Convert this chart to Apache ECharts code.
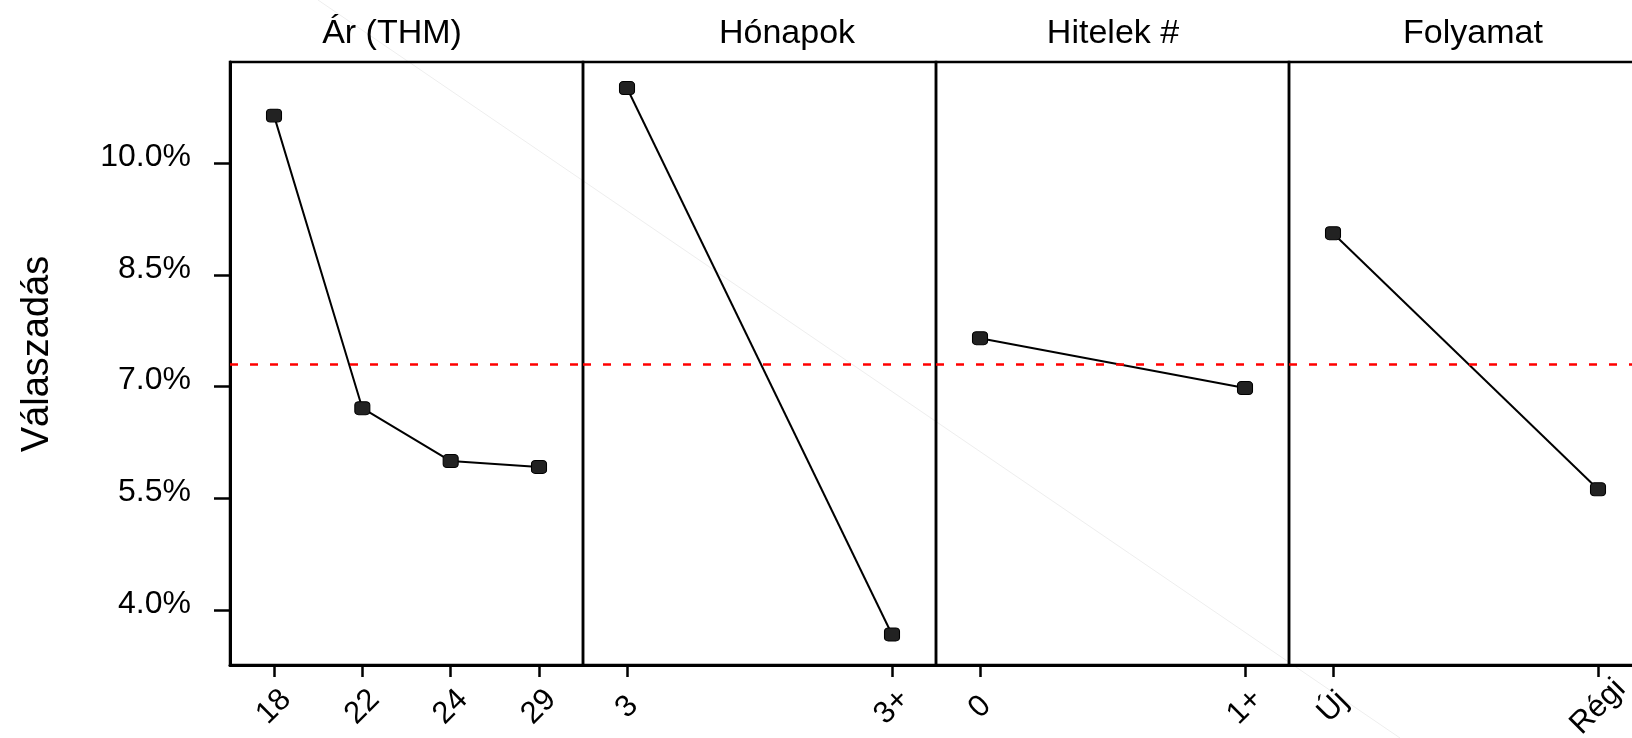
<!DOCTYPE html>
<html>
<head>
<meta charset="utf-8">
<title>Főhatások - Válaszadás</title>
<script src="https://cdn.jsdelivr.net/npm/echarts@6/dist/echarts.min.js"></script>
<style>
html, body { margin: 0; padding: 0; background: #fff; }
#main { width: 1632px; height: 738px; }
</style>
</head>
<body>
<div id="main"></div>
<script>
// adatok
var panelNames = ['Ár (THM)', 'Hónapok', 'Hitelek #', 'Folyamat'];
var arLevels = ['18', '22', '24', '29'];
var arValues = [10.64, 6.71, 6.00, 5.92];
var honapLevels = ['3', '3+'];
var honapValues = [11.01, 3.67];
var hitelLevels = ['0', '1+'];
var hitelValues = [7.65, 6.98];
var folyLevels = ['Új', 'Régi'];
var folyValues = [9.06, 5.62];
var meanValue = 7.30;
var yTicks = [4.0, 5.5, 7.0, 8.5, 10.0];
var yName = 'Válaszadás';

window.onload = function () {
    var chart = echarts.init(document.getElementById('main'));
    var levels = [arLevels, honapLevels, hitelLevels, folyLevels];
    var values = [arValues, honapValues, hitelValues, folyValues];

    var left0 = 230, top0 = 62, plotH = 603, panelW = 353, padPx = 44;
    var yMin = 3.26, yMax = 11.36;
    var titleX = [392, 787, 1113, 1473];
    var font = '"Liberation Sans", Arial, sans-serif';

    var grids = [], xAxes = [], yAxes = [], series = [], graphics = [];

    // halvány átlós vonal a háttérben
    graphics.push({
        type: 'line', silent: true, z: -10,
        shape: { x1: 318, y1: 0, x2: 1400, y2: 738 },
        style: { stroke: '#eeeeee', lineWidth: 1 }
    });

    for (var i = 0; i < 4; i++) {
        var n = levels[i].length;
        var pad = padPx / (panelW - 2 * padPx) * (n - 1);
        var idx = [];
        for (var k = 0; k < n; k++) idx.push(k);

        grids.push({
            left: left0 + i * panelW, top: top0, width: panelW, height: plotH,
            containLabel: false, outerBoundsMode: 'none',
            show: true, borderColor: '#000', borderWidth: 2.5, backgroundColor: 'transparent'
        });

        (function (labs) {
            xAxes.push({
                gridIndex: i, type: 'value', min: -pad, max: n - 1 + pad,
                splitLine: { show: false },
                axisLine: { show: true, onZero: false, lineStyle: { color: '#000', width: 3 } },
                axisTick: { show: true, customValues: idx, length: 12, lineStyle: { color: '#000', width: 2.5 } },
                axisLabel: {
                    customValues: idx, rotate: 45, align: 'center', verticalAlign: 'middle',
                    margin: 42, fontSize: 31, fontFamily: font, color: '#000',
                    formatter: function (v) { return labs[Math.round(v)]; }
                }
            });
        })(levels[i]);

        yAxes.push({
            gridIndex: i, type: 'value', min: yMin, max: yMax, show: i === 0,
            splitLine: { show: false },
            axisLine: { show: true, onZero: false, lineStyle: { color: '#000', width: 3 } },
            axisTick: { show: true, customValues: yTicks, length: 16, lineStyle: { color: '#000', width: 2.5 } },
            axisLabel: {
                customValues: yTicks, margin: 39, fontSize: 32, fontFamily: font, color: '#000',
                verticalAlign: 'bottom', lineHeight: 12,
                formatter: function (v) { return v.toFixed(1) + '%'; }
            }
        });

        series.push({
            type: 'line', xAxisIndex: i, yAxisIndex: i, z: 3,
            data: values[i].map(function (v, k) { return [k, v]; }),
            symbol: 'roundRect', symbolSize: [15, 13],
            lineStyle: { color: '#000', width: 2 },
            itemStyle: { color: '#222', borderColor: '#000', borderWidth: 1 },
            markLine: {
                silent: true, symbol: 'none', label: { show: false },
                lineStyle: { color: '#ff0000', type: [8, 12], width: 2.5 },
                data: [{ yAxis: meanValue }]
            }
        });

        graphics.push({
            type: 'text', x: titleX[i], y: 34,
            style: { text: panelNames[i], font: '34px ' + font, fill: '#000', align: 'center', verticalAlign: 'middle' }
        });
    }

    graphics.push({
        type: 'text', x: 38, y: 354, rotation: Math.PI / 2,
        style: { text: yName, font: '38px ' + font, fill: '#000', align: 'center', verticalAlign: 'middle' }
    });

    chart.setOption({
        animation: false,
        backgroundColor: '#fff',
        grid: grids,
        xAxis: xAxes,
        yAxis: yAxes,
        series: series,
        graphic: graphics
    });
};
</script>
</body>
</html>
